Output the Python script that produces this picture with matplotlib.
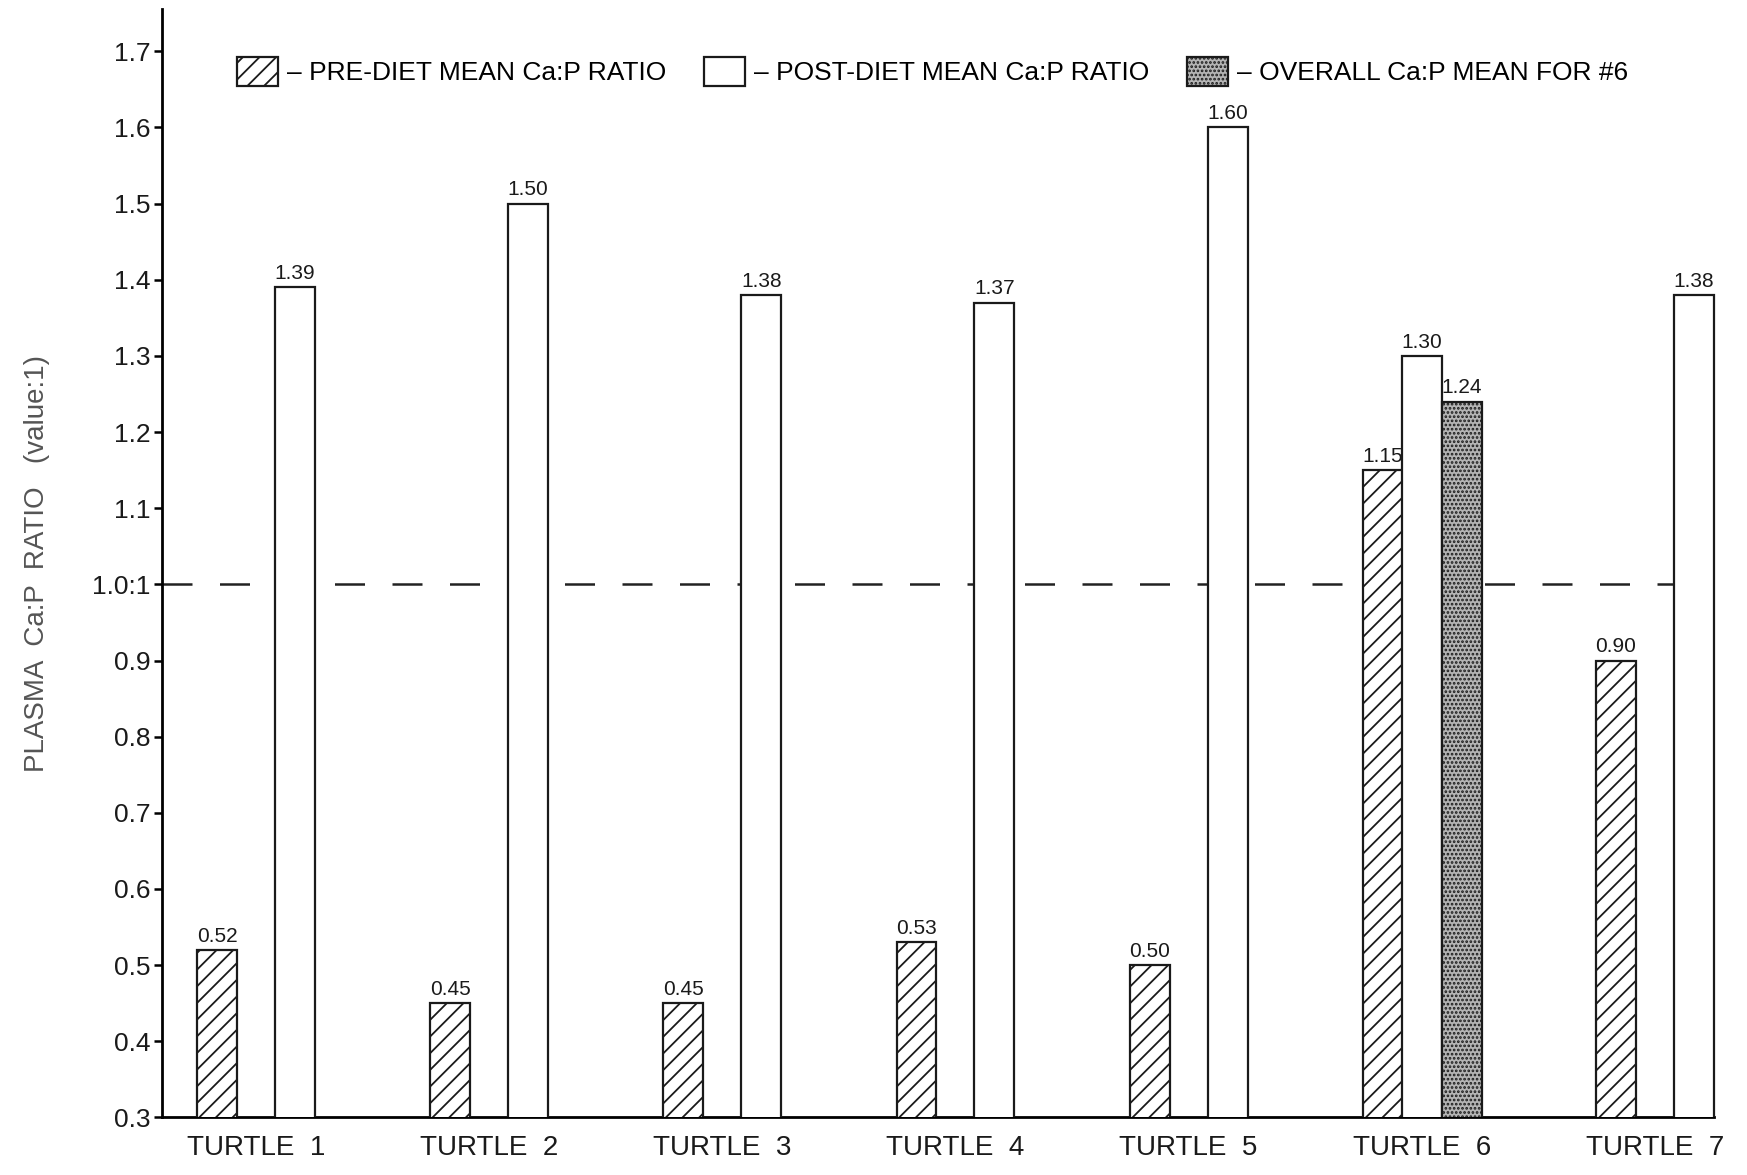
import numpy as np
import matplotlib
matplotlib.use('Agg')
import matplotlib.pyplot as plt

# values
turtles = ['TURTLE  1', 'TURTLE  2', 'TURTLE  3', 'TURTLE  4',
           'TURTLE  5', 'TURTLE  6', 'TURTLE  7']
pre_diet = [0.52, 0.45, 0.45, 0.53, 0.50, 1.15, 0.90]
post_diet = [1.39, 1.50, 1.38, 1.37, 1.60, 1.30, 1.38]
overall_6 = [1.24]
yticks = [0.3, 0.4, 0.5, 0.6, 0.7, 0.8, 0.9, 1.0, 1.1, 1.2, 1.3, 1.4, 1.5, 1.6, 1.7]
ytick_labels = ['0.3', '0.4', '0.5', '0.6', '0.7', '0.8', '0.9', '1.0:1',
                '1.1', '1.2', '1.3', '1.4', '1.5', '1.6', '1.7']

plt.rcParams['font.family'] = ['Liberation Sans', 'DejaVu Sans']
plt.rcParams['hatch.linewidth'] = 1.3

fig = plt.figure(figsize=(17.47, 11.75), dpi=100)
ax = fig.add_axes([0.0925, 0.049, 0.8895, 0.943])

w = 0.171
x = np.arange(len(turtles))
x_pre = x - 0.167
x_post = x + 0.167
x_post[5] = x[5]          # turtle 6 has three bars side by side
x_all = [x[5] + w]

# reference line at 1.0
ax.axhline(1.0, xmax=0.99, color='#222222', lw=1.8, linestyle=(0, (12, 11)), zorder=1)

b1 = ax.bar(x_pre, pre_diet, w, facecolor='white', edgecolor='#1a1a1a',
            hatch='//', linewidth=1.6, zorder=3,
            label=u'\u2013 PRE-DIET MEAN Ca:P RATIO')
b2 = ax.bar(x_post, post_diet, w, facecolor='white', edgecolor='#1a1a1a',
            linewidth=1.6, zorder=3,
            label=u'\u2013 POST-DIET MEAN Ca:P RATIO')
b3 = ax.bar(x_all, overall_6, w, facecolor='#b4b4b4', edgecolor='#1a1a1a',
            hatch='....', linewidth=1.6, zorder=3,
            label=u'\u2013 OVERALL Ca:P MEAN FOR #6')

for b in (b1, b2, b3):
    ax.bar_label(b, fmt='%.2f', padding=3, fontsize=15, color='#1a1a1a')

ax.set_ylim(0.3, 1.755)
ax.set_xlim(-0.405, 6.26)
ax.set_yticks(yticks)
ax.set_yticklabels(ytick_labels, fontsize=19, color='#1a1a1a')
ax.set_xticks(x)
ax.set_xticklabels(turtles, fontsize=20, color='#1a1a1a')
ax.tick_params(axis='x', length=0, pad=13)
ax.tick_params(axis='y', length=6, width=1.8, direction='out', pad=2)

ax.spines['top'].set_visible(False)
ax.spines['right'].set_visible(False)
ax.spines['left'].set_linewidth(2)
ax.spines['bottom'].set_linewidth(2)
ax.spines['bottom'].set_bounds(-0.405, x_post[-1] + w / 2)

ax.set_ylabel('PLASMA  Ca:P  RATIO   (value:1)', fontsize=20, color='#555555',
              labelpad=30)

ax.legend(handles=[b1, b2, b3], ncol=3, loc='upper left',
          bbox_to_anchor=(0.0485, 0.957), frameon=False, fontsize=19,
          handlelength=1.55, handleheight=1.3, handletextpad=0.34,
          columnspacing=1.44, borderpad=0, borderaxespad=0)

fig.savefig('out.png', dpi=100, facecolor='white')
